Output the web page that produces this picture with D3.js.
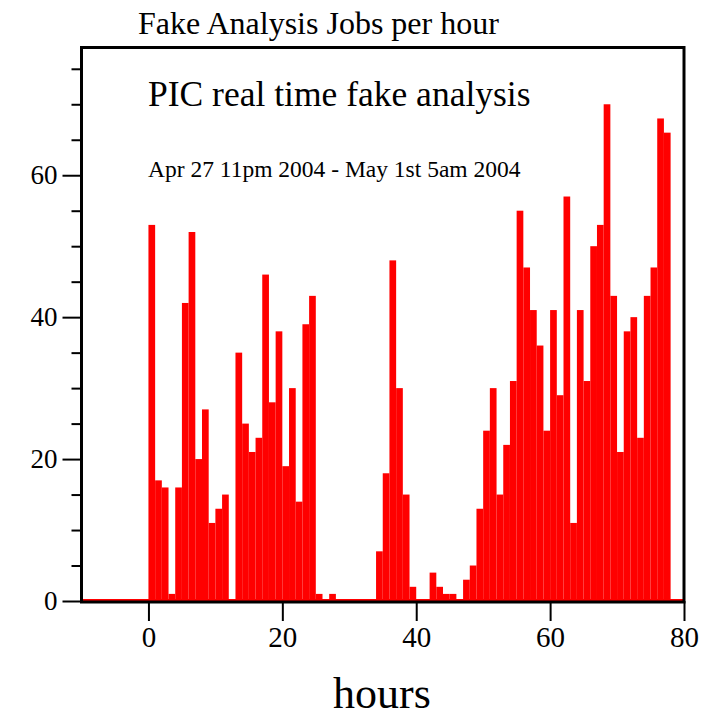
<!DOCTYPE html>
<html>
<head>
<meta charset="utf-8">
<script src="https://cdn.jsdelivr.net/npm/d3@7/dist/d3.min.js"></script>
<style>
  body { margin: 0; background: #fff; }
  svg text { font-family: "Liberation Serif", "DejaVu Serif", serif; fill: #000; }
  .axis path { display: none; }
  .axis line { stroke: #000; stroke-width: 2; }
</style>
</head>
<body>
<div id="histogram"></div>
<script>
// Jobs per hour, one bin per hour, first bin starts at hour -10
var hourStart = -10;
var jobs = [
  0, 0, 0, 0, 0, 0, 0, 0, 0, 0,
  53, 17, 16, 1, 16, 42, 52, 20, 27, 11,
  13, 15, 0, 35, 25, 21, 23, 46, 28, 38,
  19, 30, 14, 39, 43, 1, 0, 1, 0, 0,
  0, 0, 0, 0, 7, 18, 48, 30, 15, 2,
  0, 0, 4, 2, 1, 1, 0, 3, 5, 13,
  24, 30, 15, 22, 31, 55, 47, 41, 36, 24,
  41, 29, 57, 11, 41, 31, 50, 53, 70, 43,
  21, 38, 40, 23, 43, 47, 68, 66, 0, 0
];

var xTicks = [0, 20, 40, 60, 80];
var yTicks = [0, 20, 40, 60];
var yMinorTicks = [5, 10, 15, 25, 30, 35, 45, 50, 55, 65, 70, 75];

var title = "Fake Analysis Jobs per hour";
var heading = "PIC real time fake analysis";
var period = "Apr 27 11pm 2004 - May 1st 5am 2004";
var xLabel = "hours";

var render = function() {
  var width = 709;
  var height = 717;
  var margins = { top: 47.5, right: 25, bottom: 116, left: 81.5 };
  var chartWidth = width - margins.left - margins.right;
  var chartHeight = height - margins.top - margins.bottom;

  var data = jobs.map((v, i) => ({ hour: hourStart + i, value: v }));

  var containerElement = d3.select("#histogram");
  containerElement.html("");

  var svg = containerElement
    .append("svg")
    .attr("width", width)
    .attr("height", height);

  var chartElement = svg
    .append("g")
    .attr("transform", `translate(${margins.left},${margins.top})`);

  var xScale = d3
    .scaleLinear()
    .domain([hourStart, 80])
    .range([0, chartWidth]);

  var yScale = d3
    .scaleLinear()
    .domain([0, 78])
    .range([chartHeight, 0]);

  // Bars
  chartElement
    .append("g")
    .attr("class", "bars")
    .selectAll("rect")
    .data(data.filter(d => d.value > 0))
    .enter()
    .append("rect")
    .attr("x", d => xScale(d.hour))
    .attr("width", d => xScale(d.hour + 1) - xScale(d.hour))
    .attr("y", d => yScale(d.value))
    .attr("height", d => yScale(0) - yScale(d.value))
    .attr("fill", "#ff0000");

  // empty bins still show as a red line on the floor
  chartElement
    .append("line")
    .attr("x1", xScale(data[0].hour))
    .attr("x2", xScale(data[data.length - 1].hour + 1))
    .attr("y1", yScale(0) - 1)
    .attr("y2", yScale(0) - 1)
    .attr("stroke", "#ff0000")
    .attr("stroke-width", 2);

  // Axes
  var xAxis = d3
    .axisBottom(xScale)
    .tickValues(xTicks)
    .tickSize(20)
    .tickPadding(5)
    .tickFormat(d => d);

  chartElement
    .append("g")
    .attr("class", "x axis")
    .attr("transform", `translate(0,${chartHeight})`)
    .call(xAxis)
    .selectAll("text")
    .style("font-size", "29px");

  var yAxis = d3
    .axisLeft(yScale)
    .tickValues(yTicks)
    .tickSize(19)
    .tickPadding(5)
    .tickFormat(d => d);

  chartElement
    .append("g")
    .attr("class", "y axis")
    .call(yAxis)
    .selectAll("text")
    .style("font-size", "27px");

  chartElement
    .append("g")
    .attr("class", "y axis minor")
    .call(
      d3.axisLeft(yScale)
        .tickValues(yMinorTicks)
        .tickSize(10)
        .tickFormat("")
    );

  // Frame
  chartElement
    .append("rect")
    .attr("x", 0)
    .attr("y", 0)
    .attr("width", chartWidth)
    .attr("height", chartHeight + 1)
    .attr("fill", "none")
    .attr("stroke", "#000")
    .attr("stroke-width", 3);

  // Texts
  svg.append("text")
    .attr("x", 138)
    .attr("y", 34)
    .style("font-size", "32px")
    .text(title);

  svg.append("text")
    .attr("x", 148)
    .attr("y", 106)
    .style("font-size", "35.5px")
    .text(heading);

  svg.append("text")
    .attr("x", 148)
    .attr("y", 177)
    .style("font-size", "23.5px")
    .text(period);

  svg.append("text")
    .attr("x", 382)
    .attr("y", 708)
    .attr("text-anchor", "middle")
    .style("font-size", "44px")
    .text(xLabel);
};

window.onload = render;
</script>
</body>
</html>
